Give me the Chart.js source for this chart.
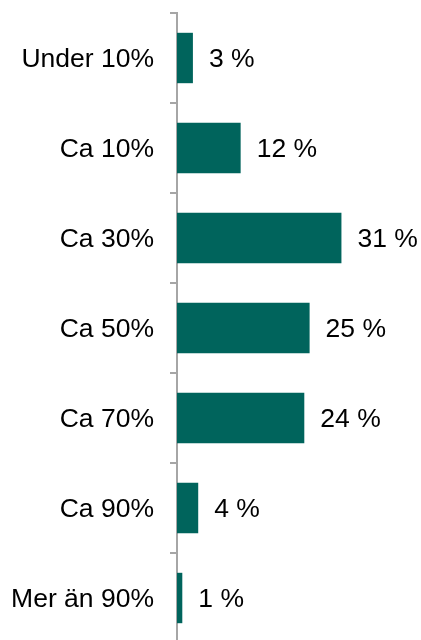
<!DOCTYPE html>
<html>
<head>
<meta charset="utf-8">
<script src="https://cdn.jsdelivr.net/npm/chart.js"></script>
<style>
  html, body { margin: 0; padding: 0; background: #fff; overflow: hidden; }
  #wrap { width: 421px; height: 660px; }
</style>
</head>
<body>
<div id="wrap"><canvas id="chart"></canvas></div>
<script>
const categories = ['Under 10%', 'Ca 10%', 'Ca 30%', 'Ca 50%', 'Ca 70%', 'Ca 90%', 'Mer än 90%'];
const values = [3, 12, 31, 25, 24, 4, 1];

const fontFamily = "Arial, 'Liberation Sans', sans-serif";
const fontSize = 26.5;

// draws "31 %" style labels to the right of each bar
const valueLabels = {
    id: 'valueLabels',
    afterDatasetsDraw(chart) {
        const ctx = chart.ctx;
        const meta = chart.getDatasetMeta(0);
        ctx.save();
        ctx.font = fontSize + 'px ' + fontFamily;
        ctx.fillStyle = '#000';
        ctx.textAlign = 'left';
        ctx.textBaseline = 'middle';
        meta.data.forEach((bar, i) => {
            ctx.fillText(values[i] + ' %', bar.x + 16, bar.y + 2);
        });
        ctx.restore();
    }
};

new Chart(document.getElementById('chart'), {
    type: 'bar',
    data: {
        labels: categories,
        datasets: [{
            data: values,
            backgroundColor: '#00645c',
            borderWidth: 0,
            barPercentage: 0.56,
            categoryPercentage: 1
        }]
    },
    options: {
        indexAxis: 'y',
        responsive: true,
        maintainAspectRatio: false,
        animation: false,
        layout: { padding: { top: 13, bottom: 17, left: 0, right: 0 } },
        scales: {
            x: {
                display: false,
                min: 0,
                max: 46
            },
            y: {
                afterFit(scale) {
                    scale.width = 177;
                    scale.paddingTop = 0;
                    scale.paddingBottom = 0;
                },
                border: { display: true, color: '#a6a6a6', width: 2 },
                grid: {
                    display: true,
                    drawOnChartArea: false,
                    drawTicks: true,
                    tickLength: 7,
                    color: '#a6a6a6',
                    lineWidth: 2,
                    offset: true
                },
                ticks: {
                    color: '#000',
                    padding: 16,
                    labelOffset: 2,
                    font: { family: fontFamily, size: fontSize }
                }
            }
        },
        plugins: {
            legend: { display: false },
            tooltip: { enabled: false }
        }
    },
    plugins: [valueLabels]
});
</script>
</body>
</html>
